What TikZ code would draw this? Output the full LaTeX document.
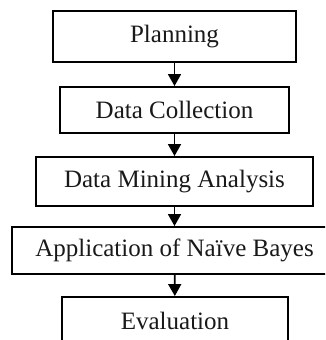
\documentclass[tikz,border=0pt]{standalone}
\usepackage{fontspec}
\setmainfont{Liberation Serif}
\usetikzlibrary{arrows.meta}
\begin{document}
\begin{tikzpicture}[x=1pt,y=1pt,
  stagebox/.style={draw=black,line width=1.9pt,minimum width=#1,inner sep=0pt,font=\fontsize{25}{28}\selectfont,text=black!90},
  flow/.style={line width=1.7pt,-{Triangle[length=12pt,width=13pt]}}]
\useasboundingbox[clip] (0,0) rectangle (325,340);
\fill[white] (0,0) rectangle (325,340);
\node[stagebox=243pt,minimum height=51pt] (p) at (174.5,303.5) {Planning};
\node[stagebox=229pt,minimum height=46pt] (d) at (174.5,230) {Data Collection};
\node[stagebox=277pt,minimum height=49pt] (m) at (174.5,158.5) {Data Mining Analysis};
\node[stagebox=325pt,minimum height=47pt] (a) at (174.5,89.5) {Application of Naïve Bayes};
\node[stagebox=226pt,minimum height=48pt] (e) at (175,19) {Evaluation};
\draw[flow] (p) -- (d);
\draw[flow] (d) -- (m);
\draw[flow] (m) -- (a);
\draw[flow] (a) -- (e);
\end{tikzpicture}
\end{document}
